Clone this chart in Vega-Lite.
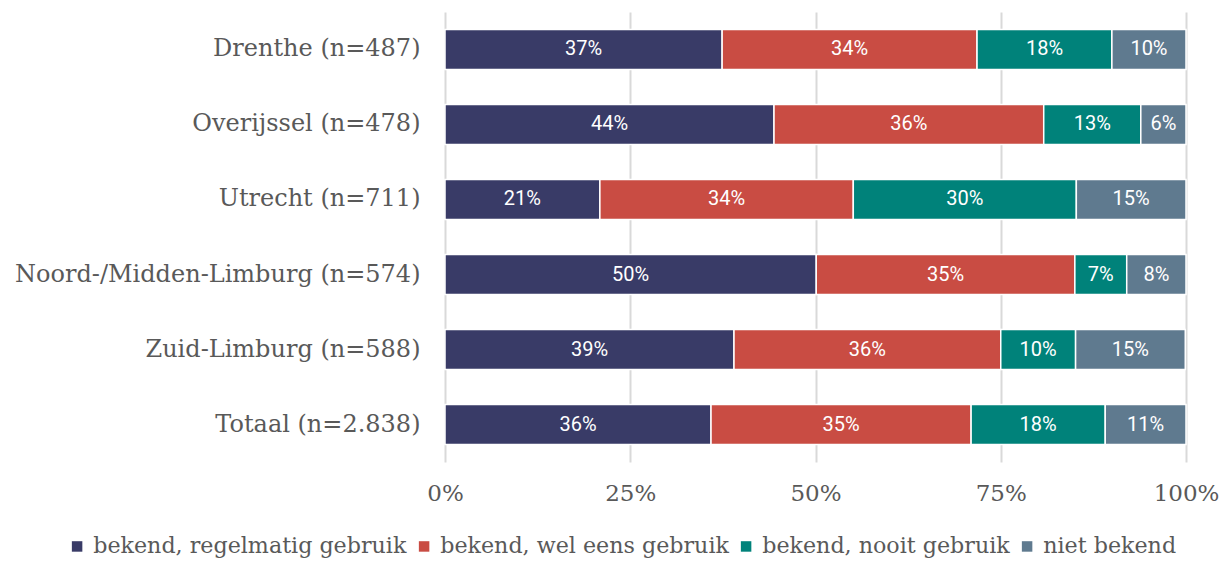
{
  "$schema": "https://vega.github.io/schema/vega-lite/v6.json",
  "width": 741,
  "height": 450,
  "autosize": "none",
  "padding": {"left": 445, "top": 12, "right": 35, "bottom": 100},
  "background": "white",
  "config": {"view": {"stroke": null}},
  "data": {
    "values": [
      {"region": "Drenthe (n=487)", "cat": "bekend, regelmatig gebruik", "k": 1, "value": 37.4},
      {"region": "Drenthe (n=487)", "cat": "bekend, wel eens gebruik", "k": 2, "value": 34.4},
      {"region": "Drenthe (n=487)", "cat": "bekend, nooit gebruik", "k": 3, "value": 18.2},
      {"region": "Drenthe (n=487)", "cat": "niet bekend", "k": 4, "value": 10.0},
      {"region": "Overijssel (n=478)", "cat": "bekend, regelmatig gebruik", "k": 1, "value": 44.4},
      {"region": "Overijssel (n=478)", "cat": "bekend, wel eens gebruik", "k": 2, "value": 36.4},
      {"region": "Overijssel (n=478)", "cat": "bekend, nooit gebruik", "k": 3, "value": 13.1},
      {"region": "Overijssel (n=478)", "cat": "niet bekend", "k": 4, "value": 6.1},
      {"region": "Utrecht (n=711)", "cat": "bekend, regelmatig gebruik", "k": 1, "value": 20.9},
      {"region": "Utrecht (n=711)", "cat": "bekend, wel eens gebruik", "k": 2, "value": 34.2},
      {"region": "Utrecht (n=711)", "cat": "bekend, nooit gebruik", "k": 3, "value": 30.1},
      {"region": "Utrecht (n=711)", "cat": "niet bekend", "k": 4, "value": 14.8},
      {"region": "Noord-/Midden-Limburg (n=574)", "cat": "bekend, regelmatig gebruik", "k": 1, "value": 50.1},
      {"region": "Noord-/Midden-Limburg (n=574)", "cat": "bekend, wel eens gebruik", "k": 2, "value": 34.9},
      {"region": "Noord-/Midden-Limburg (n=574)", "cat": "bekend, nooit gebruik", "k": 3, "value": 7.0},
      {"region": "Noord-/Midden-Limburg (n=574)", "cat": "niet bekend", "k": 4, "value": 8.0},
      {"region": "Zuid-Limburg (n=588)", "cat": "bekend, regelmatig gebruik", "k": 1, "value": 39.0},
      {"region": "Zuid-Limburg (n=588)", "cat": "bekend, wel eens gebruik", "k": 2, "value": 36.0},
      {"region": "Zuid-Limburg (n=588)", "cat": "bekend, nooit gebruik", "k": 3, "value": 10.1},
      {"region": "Zuid-Limburg (n=588)", "cat": "niet bekend", "k": 4, "value": 14.8},
      {"region": "Totaal (n=2.838)", "cat": "bekend, regelmatig gebruik", "k": 1, "value": 35.9},
      {"region": "Totaal (n=2.838)", "cat": "bekend, wel eens gebruik", "k": 2, "value": 35.1},
      {"region": "Totaal (n=2.838)", "cat": "bekend, nooit gebruik", "k": 3, "value": 18.1},
      {"region": "Totaal (n=2.838)", "cat": "niet bekend", "k": 4, "value": 10.9}
    ]
  },
  "transform": [
    {"stack": "value", "groupby": ["region"], "sort": [{"field": "k", "order": "ascending"}], "as": ["v0", "v1"]},
    {"calculate": "(datum.v0 + datum.v1) / 2", "as": "mid"},
    {"calculate": "format(datum.value, '.0f') + '%'", "as": "label"}
  ],
  "encoding": {
    "y": {
      "field": "region",
      "type": "nominal",
      "sort": null,
      "title": null,
      "scale": {"paddingInner": 0.467, "paddingOuter": 0.233},
      "axis": {
        "domain": false,
        "ticks": false,
        "labelFont": "DejaVu Serif",
        "labelFontSize": 24,
        "labelColor": "#595959",
        "labelPadding": 25,
        "labelLimit": 600
      }
    }
  },
  "layer": [
    {
      "mark": {"type": "bar", "stroke": "white", "strokeWidth": 1.5},
      "encoding": {
        "x": {
          "field": "v0",
          "type": "quantitative",
          "scale": {"domain": [0, 100], "nice": false},
          "title": null,
          "axis": {
            "values": [0, 25, 50, 75, 100],
            "labelExpr": "datum.value + '%'",
            "domain": false,
            "ticks": false,
            "grid": true,
            "gridColor": "#d9d9d9",
            "gridWidth": 2,
            "labelFont": "DejaVu Serif",
            "labelFontSize": 23,
            "labelColor": "#595959",
            "labelPadding": 20,
            "labelFlush": false
          }
        },
        "x2": {"field": "v1"},
        "color": {
          "field": "cat",
          "type": "nominal",
          "sort": ["bekend, regelmatig gebruik", "bekend, wel eens gebruik", "bekend, nooit gebruik", "niet bekend"],
          "scale": {
            "domain": ["bekend, regelmatig gebruik", "bekend, wel eens gebruik", "bekend, nooit gebruik", "niet bekend"],
            "range": ["#393b67", "#c94c43", "#00827a", "#5f7a8f"]
          },
          "legend": {
            "title": null,
            "orient": "none",
            "direction": "horizontal",
            "legendX": -379,
            "legendY": 523,
            "symbolType": "square",
            "symbolSize": 110,
            "symbolStrokeWidth": 0,
            "labelFont": "DejaVu Serif",
            "labelFontSize": 22.2,
            "labelColor": "#595959",
            "labelLimit": 600,
            "labelOffset": 5,
            "columnPadding": 6
          }
        }
      }
    },
    {
      "mark": {"type": "text", "color": "white", "font": "Roboto", "fontSize": 20, "baseline": "middle", "align": "center"},
      "encoding": {
        "x": {"field": "mid", "type": "quantitative"},
        "text": {"field": "label", "type": "nominal"}
      }
    }
  ]
}
